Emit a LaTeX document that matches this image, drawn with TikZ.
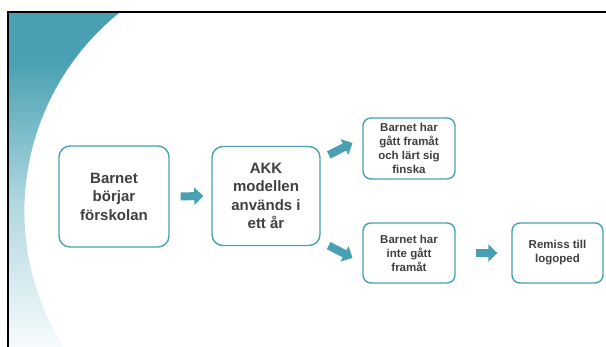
\documentclass[tikz,border=0pt]{standalone}
\usepackage{fontspec}
\setmainfont{Liberation Sans}
\usetikzlibrary{arrows.meta,calc}
\definecolor{teal1}{RGB}{72,160,178}
\definecolor{tealpale}{RGB}{246,251,252}
\definecolor{tealmid}{RGB}{178,217,225}
\definecolor{txt}{RGB}{64,64,64}
\pgfdeclareverticalshading{swooshshade}{100bp}{color(0bp)=(tealpale); color(25bp)=(tealpale); color(46bp)=(tealmid); color(68bp)=(teal1); color(100bp)=(teal1)}
\begin{document}
\begin{tikzpicture}[x=1pt,y=-1pt,
  box/.style={draw=teal1, line width=1.4pt, rounded corners=11pt, fill=white,
    align=center, text=txt, font=\bfseries\fontsize{15}{18.5}\selectfont, inner sep=0pt},
  sbox/.style={box, rounded corners=8pt, font=\bfseries\fontsize{11.5}{13.9}\selectfont},
  bigarrow/.style={draw=teal1, line width=8pt, -{Triangle[length=9pt,width=17pt]}}]
\useasboundingbox (0,0) rectangle (606,347);
% background swoosh
\shade[shading=swooshshade]
  (8,12) -- (120.3,12) arc[start angle=128.6, end angle=212.2, radius=255pt] -- (8,347) -- cycle;
% frame
\draw[line width=2pt] (8,347) -- (8,12) -- (606,12);
% boxes
\node[box, minimum width=110pt, minimum height=101pt] (b1) at (114,196.5) {Barnet\\börjar\\förskolan};
\node[box, minimum width=108pt, minimum height=99pt] (b2) at (266,196) {AKK\\modellen\\används i\\ett år};
\node[sbox, minimum width=92pt, minimum height=61pt] (b3) at (409,148.5) {Barnet har\\gått framåt\\och lärt sig\\finska};
\node[sbox, minimum width=92pt, minimum height=60pt] (b4) at (409,253) {Barnet har\\inte gått\\framåt};
\node[sbox, minimum width=91pt, minimum height=60pt] (b5) at (557.5,253) {Remiss till\\logoped};
% arrows
\draw[bigarrow, shorten <=11pt, shorten >=8pt] (b1.east) -- (b2.west);
\draw[bigarrow, shorten <=9pt, shorten >=11pt] ($(b2.east)+(0,-37)$) -- ($(b3.west)+(0,-10.5)$);
\draw[bigarrow, shorten <=9pt, shorten >=11pt] ($(b2.east)+(0,45.5)$) -- ($(b4.west)+(0,10)$);
\draw[bigarrow, shorten <=20pt, shorten >=14pt] (b4.east) -- (b5.west);
\end{tikzpicture}
\end{document}
